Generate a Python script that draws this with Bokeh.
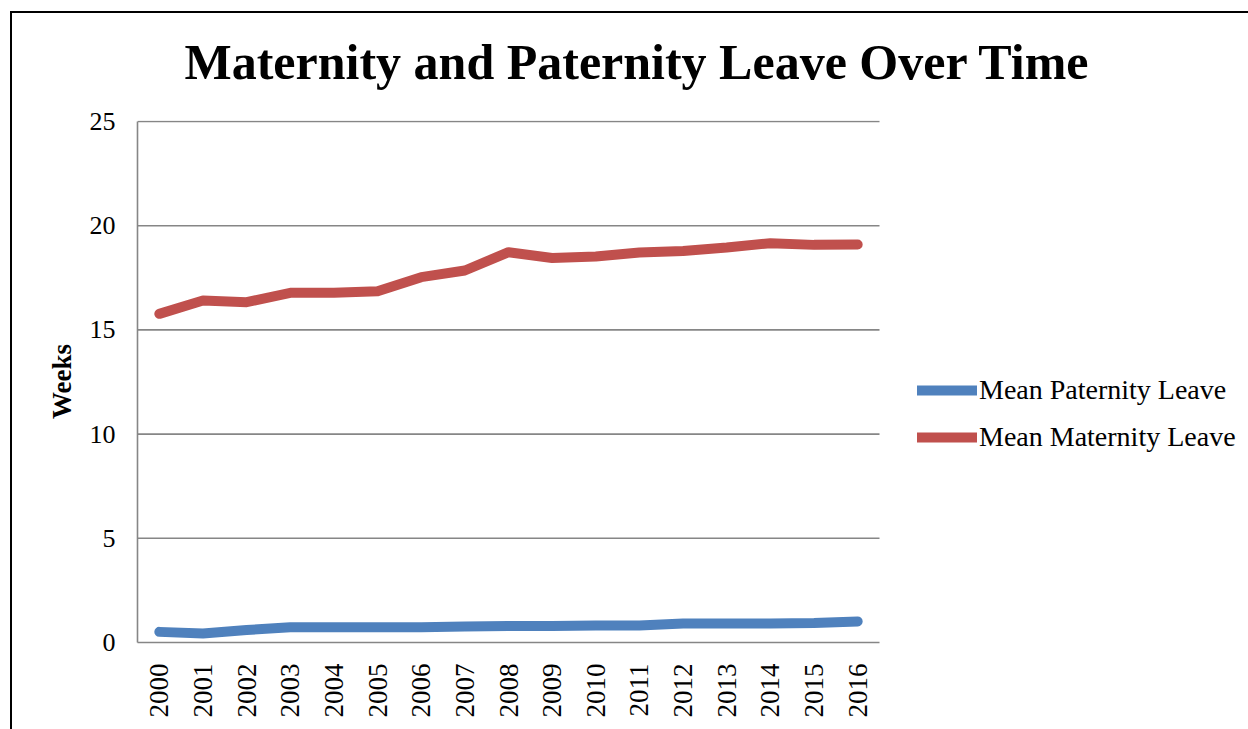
from bokeh.plotting import figure
from bokeh.models import Range1d, Legend, LegendItem, Label, FixedTicker, Title
from bokeh.embed import file_html
from bokeh.resources import INLINE

years = [str(y) for y in range(2000, 2017)]
paternity = [0.51, 0.43, 0.60, 0.73, 0.73, 0.73, 0.73, 0.77, 0.79, 0.79,
             0.82, 0.82, 0.91, 0.91, 0.91, 0.93, 1.01]
maternity = [15.77, 16.41, 16.33, 16.78, 16.78, 16.85, 17.53, 17.85, 18.73,
             18.45, 18.52, 18.71, 18.79, 18.95, 19.16, 19.08, 19.10]
y_ticks = [0, 5, 10, 15, 20, 25]

BLUE = "#4F81BD"
RED = "#C0504D"
GRID = "#868686"
SERIF = "Liberation Serif"

# one unit per year slot; years sit in the middle of their slot
n = len(years)
slot = [i + 0.5 for i in range(n)]

# the plot frame runs on to the right edge so the legend beside the
# data area is not clipped; axis and gridlines stop at the last slot
p = figure(width=1248, height=729, x_range=Range1d(0, 25.454),
           y_range=Range1d(0, 25.048), output_backend="svg", toolbar_location=None,
           min_border_left=137, min_border_right=0, min_border_top=120,
           min_border_bottom=87)
p.outline_line_color = None
p.background_fill_color = "white"
p.border_fill_color = None
# chart border (top and left edges) painted behind the transparent canvas border
p.styles = {
    "background": ("linear-gradient(black, black) 10px 11px / 1238px 2px no-repeat, "
                   "linear-gradient(black, black) 10px 11px / 2px 718px no-repeat, "
                   "white"),
}

# horizontal gridlines across the data area only
grid_levels = y_ticks[1:]
p.segment(x0=[0] * len(grid_levels), x1=[n] * len(grid_levels),
          y0=grid_levels, y1=grid_levels, line_color=GRID, line_width=1.6)

r_pat = p.line(slot, paternity, line_color=BLUE, line_width=10,
               line_cap="round", line_join="round")
r_mat = p.line(slot, maternity, line_color=RED, line_width=10,
               line_cap="round", line_join="round")

# axes
p.xgrid.grid_line_color = None
p.ygrid.grid_line_color = None
p.yaxis.ticker = FixedTicker(ticks=y_ticks)
p.yaxis.bounds = (0, 25)
p.xaxis.ticker = FixedTicker(ticks=slot)
p.xaxis.major_label_overrides = {s: y for s, y in zip(slot, years)}
p.xaxis.bounds = (0, n)
for ax in (p.xaxis[0], p.yaxis[0]):
    ax.axis_line_color = GRID
    ax.axis_line_width = 1.6
    ax.major_tick_line_color = None
    ax.minor_tick_line_color = None
    ax.major_label_text_font = SERIF
    ax.major_label_text_color = "black"
p.yaxis.major_label_text_font_size = "26px"
p.yaxis.major_label_standoff = 16
p.xaxis.major_label_text_font_size = "27px"
p.xaxis.major_label_orientation = 1.5708
p.xaxis.major_label_standoff = 15
p.yaxis.axis_label = "Weeks"
p.yaxis.axis_label_text_font = SERIF
p.yaxis.axis_label_text_font_style = "bold"
p.yaxis.axis_label_text_font_size = "27px"
p.yaxis.axis_label_text_color = "black"
p.yaxis.axis_label_standoff = 10

# title
title = Title(text="Maternity and Paternity Leave Over Time", align="left",
              text_font=SERIF, text_font_style="bold", text_font_size="50px",
              text_color="black", offset=47, standoff=62)
p.add_layout(title, "above")

# legend to the right of the data area
legend = Legend(items=[LegendItem(label="Mean Paternity Leave", renderers=[r_pat]),
                       LegendItem(label="Mean Maternity Leave", renderers=[r_mat])],
                location=(780, 189), padding=0, margin=0, spacing=15,
                glyph_width=60, glyph_height=32, label_height=32,
                label_standoff=2, border_line_color=None,
                background_fill_alpha=0,
                label_text_font=SERIF, label_text_font_size="28px",
                label_text_color="black")
p.add_layout(legend, "center")

# section caption above the chart border
p.add_layout(Label(x=25, y=5, x_units="canvas", y_units="canvas", text="A.11",
                   text_font=SERIF, text_font_style="bold",
                   text_font_size="30px", text_baseline="alphabetic"))

open("out.html", "w").write(file_html(p, INLINE))
